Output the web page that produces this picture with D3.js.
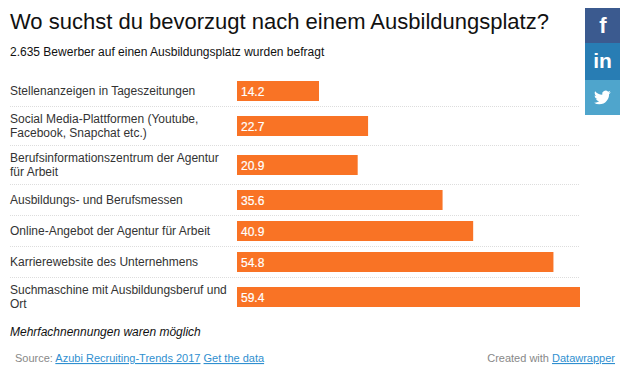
<!DOCTYPE html>
<html>
<head>
<meta charset="utf-8">
<script src="https://cdn.jsdelivr.net/npm/d3@7"></script>
<style>
  html, body { margin: 0; padding: 0; background: #fff; }
  svg { display: block; font-family: "Liberation Sans", Arial, sans-serif; }
</style>
</head>
<body>
<div id="chart"></div>
<script>
const title = "Wo suchst du bevorzugt nach einem Ausbildungsplatz?";
const subtitle = "2.635 Bewerber auf einen Ausbildungsplatz wurden befragt";
const note = "Mehrfachnennungen waren möglich";

const labels = [
  ["Stellenanzeigen in Tageszeitungen"],
  ["Social Media-Plattformen (Youtube,", "Facebook, Snapchat etc.)"],
  ["Berufsinformationszentrum der Agentur", "für Arbeit"],
  ["Ausbildungs- und Berufsmessen"],
  ["Online-Angebot der Agentur für Arbeit"],
  ["Karrierewebsite des Unternehmens"],
  ["Suchmaschine mit Ausbildungsberuf und", "Ort"]
];
const values = [14.2, 22.7, 20.9, 35.6, 40.9, 54.8, 59.4];

const width = 626, height = 369;
const svg = d3.select("#chart").append("svg").attr("width", width).attr("height", height);

const x = d3.scaleLinear().domain([0, 59.4]).range([237, 580]);

// header
svg.append("text").attr("x", 10).attr("y", 29).attr("font-size", 22).attr("fill", "#111").text(title);
svg.append("text").attr("x", 10).attr("y", 56).attr("font-size", 12).attr("fill", "#111").text(subtitle);

// rows, height depends on number of label lines
let rowTop = 75;
const rows = labels.map((lines, i) => {
  const h = lines.length > 1 ? 39 : 31;
  const r = { lines, value: values[i], top: rowTop, h };
  rowTop += h;
  return r;
});

const row = svg.selectAll("g.row").data(rows).join("g").attr("class", "row")
  .attr("transform", d => `translate(0,${d.top})`);

row.filter((d, i) => i < rows.length - 1).append("line")
  .attr("x1", 10).attr("x2", 580)
  .attr("y1", d => d.h + 0.5).attr("y2", d => d.h + 0.5)
  .attr("stroke", "#ddd").attr("stroke-dasharray", "1,1");

row.append("rect")
  .attr("x", x(0))
  .attr("y", d => Math.round((d.h - 20) / 2 + 0.5))
  .attr("width", d => x(d.value) - x(0))
  .attr("height", 20)
  .attr("fill", "#f97325");

row.append("text")
  .attr("x", x(0) + 4)
  .attr("y", d => d.h / 2 + 5)
  .attr("font-size", 12).attr("fill", "#fff")
  .attr("stroke", "#fff").attr("stroke-width", 0.2)
  .text(d => d.value.toFixed(1));

row.each(function(d) {
  const start = d.lines.length > 1 ? 17 : 20;
  d3.select(this).selectAll("text.lab").data(d.lines).join("text").attr("class", "lab")
    .attr("x", 10)
    .attr("y", (l, i) => start + i * 14)
    .attr("font-size", 12).attr("fill", "#333")
    .text(l => l);
});

// footer
svg.append("text").attr("x", 10).attr("y", 336).attr("font-size", 12)
  .attr("font-style", "italic").attr("fill", "#111").text(note);

const source = svg.append("text").attr("x", 15).attr("y", 362).attr("font-size", 11).attr("fill", "#888");
source.append("tspan").text("Source: ");
source.append("tspan").attr("fill", "#2f8fd0").attr("text-decoration", "underline").text("Azubi Recruiting-Trends 2017");
source.append("tspan").text(" ");
source.append("tspan").attr("fill", "#2f8fd0").attr("text-decoration", "underline").text("Get the data");

const credit = svg.append("text").attr("x", 615).attr("y", 362).attr("text-anchor", "end").attr("font-size", 11).attr("fill", "#888");
credit.append("tspan").text("Created with ");
credit.append("tspan").attr("fill", "#2f8fd0").attr("text-decoration", "underline").text("Datawrapper");

// share buttons
const share = svg.append("g");
share.append("rect").attr("x", 585).attr("y", 8).attr("width", 35).attr("height", 35).attr("fill", "#3b5a8f");
share.append("rect").attr("x", 585).attr("y", 43).attr("width", 35).attr("height", 37).attr("fill", "#287db4");
share.append("rect").attr("x", 585).attr("y", 80).attr("width", 35).attr("height", 35).attr("fill", "#4fa5cc");
share.append("text").attr("x", 603).attr("y", 33).attr("text-anchor", "middle")
  .attr("font-size", 22).attr("font-weight", "bold").attr("fill", "#fff").text("f");
share.append("text").attr("x", 602.5).attr("y", 68).attr("text-anchor", "middle")
  .attr("font-size", 21).attr("font-weight", "bold").attr("fill", "#fff").text("in");
share.append("path")
  .attr("transform", "translate(594,89) scale(0.7)")
  .attr("fill", "#fff")
  .attr("d", "M23.953 4.57a10 10 0 01-2.825.775 4.958 4.958 0 002.163-2.723c-.951.555-2.005.959-3.127 1.184a4.92 4.92 0 00-8.384 4.482C7.69 8.095 4.067 6.13 1.64 3.162a4.822 4.822 0 00-.666 2.475c0 1.71.87 3.213 2.188 4.096a4.904 4.904 0 01-2.228-.616v.06a4.923 4.923 0 003.946 4.827 4.996 4.996 0 01-2.212.085 4.936 4.936 0 004.604 3.417 9.867 9.867 0 01-6.102 2.105c-.39 0-.779-.023-1.17-.067a13.995 13.995 0 007.557 2.209c9.053 0 13.998-7.496 13.998-13.985 0-.21 0-.42-.015-.63A9.935 9.935 0 0024 4.59z");
</script>
</body>
</html>
